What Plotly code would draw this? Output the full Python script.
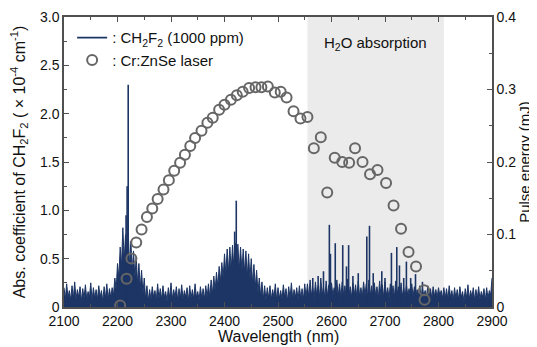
import plotly.graph_objects as go

# ---------------- data ----------------
# CH2F2 absorption trace (x1e-4 cm^-1), read every 2.5 nm from 2100 to 2900 nm
wl_start, wl_step = 2100.0, 2.5
abs_base1 = [  # 2100 - 2190
    0.20, 0.08, 0.24, 0.10, 0.17, 0.07, 0.22, 0.09, 0.26, 0.08,
    0.18, 0.10, 0.21, 0.06, 0.19, 0.09, 0.23, 0.08, 0.16, 0.10,
    0.25, 0.07, 0.20, 0.09, 0.18, 0.08, 0.22, 0.10, 0.17, 0.06,
    0.21, 0.09, 0.24, 0.08, 0.19, 0.10, 0.20]
abs_band1 = [  # 2192.5 - 2260
    0.12, 0.30, 0.18, 0.45, 0.30, 0.62, 0.42, 0.82, 0.48, 0.75,
    0.52, 0.80, 0.42, 0.68, 0.38, 0.58, 0.30, 0.52, 0.24, 0.45,
    0.20, 0.38, 0.14, 0.30, 0.08, 0.22, 0.06, 0.18]
abs_base2 = [  # 2262.5 - 2365
    0.08, 0.21, 0.10, 0.17, 0.07, 0.24, 0.09, 0.19, 0.08, 0.22,
    0.10, 0.16, 0.06, 0.20, 0.09, 0.25, 0.08, 0.18, 0.10, 0.21,
    0.07, 0.19, 0.09, 0.23, 0.08, 0.17, 0.10, 0.20, 0.06, 0.22,
    0.09, 0.18, 0.08, 0.24, 0.10, 0.16, 0.07, 0.21, 0.09, 0.19,
    0.08, 0.22]
abs_band2 = [  # 2367.5 - 2480
    0.10, 0.24, 0.10, 0.28, 0.13, 0.32, 0.17, 0.36, 0.21, 0.42,
    0.26, 0.46, 0.30, 0.55, 0.34, 0.60, 0.36, 0.62, 0.38, 0.64,
    0.40, 0.66, 0.42, 0.65, 0.38, 0.62, 0.37, 0.60, 0.35, 0.58,
    0.31, 0.55, 0.29, 0.50, 0.24, 0.44, 0.20, 0.38, 0.15, 0.30,
    0.11, 0.26, 0.08, 0.22, 0.07, 0.20]
abs_base3 = [  # 2482.5 - 2552.5
    0.09, 0.22, 0.08, 0.18, 0.10, 0.24, 0.07, 0.20, 0.09, 0.17,
    0.08, 0.23, 0.10, 0.19, 0.06, 0.21, 0.09, 0.25, 0.08, 0.18,
    0.10, 0.20, 0.07, 0.22, 0.09, 0.19, 0.08, 0.24, 0.10]
abs_water = [  # 2555 - 2810
    0.24, 0.10, 0.28, 0.12, 0.20, 0.09, 0.26, 0.11, 0.22, 0.10,
    0.30, 0.12, 0.21, 0.09, 0.27, 0.11, 0.23, 0.10, 0.25, 0.12,
    0.20, 0.09, 0.28, 0.11, 0.24, 0.10, 0.26, 0.12, 0.22, 0.09,
    0.29, 0.11, 0.21, 0.10, 0.25, 0.12, 0.23, 0.09, 0.27, 0.11,
    0.20, 0.10, 0.26, 0.12, 0.24, 0.09, 0.28, 0.11, 0.22, 0.10,
    0.25, 0.12, 0.21, 0.09, 0.27, 0.11, 0.23, 0.10, 0.26, 0.12,
    0.20, 0.09, 0.24, 0.11, 0.22, 0.10, 0.27, 0.12, 0.21, 0.09,
    0.25, 0.11, 0.20, 0.10, 0.23, 0.12, 0.19, 0.09, 0.24, 0.11,
    0.21, 0.10, 0.18, 0.12, 0.22, 0.09, 0.20, 0.11, 0.17, 0.10,
    0.22, 0.12, 0.19, 0.09, 0.21, 0.11, 0.18, 0.10, 0.20, 0.12,
    0.17, 0.09, 0.20]
abs_base4 = [  # 2812.5 - 2900
    0.09, 0.19, 0.08, 0.22, 0.10, 0.17, 0.07, 0.20, 0.09, 0.18,
    0.08, 0.21, 0.10, 0.16, 0.06, 0.19, 0.09, 0.23, 0.08, 0.17,
    0.10, 0.20, 0.07, 0.18, 0.09, 0.21, 0.08, 0.16, 0.10, 0.19,
    0.07, 0.20, 0.09, 0.17, 0.12, 0.30]

# sharp absorption lines: position (nm) and peak height (x1e-4 cm^-1)
line_pos = [2216, 2218, 2220, 2419, 2422,
            2565, 2575, 2585, 2596, 2598, 2607, 2621, 2628, 2632, 2640, 2650,
            2666, 2671, 2678, 2694, 2700, 2712, 2722, 2727, 2735, 2740, 2748,
            2757, 2770]
line_hgt = [0.95, 1.25, 2.30, 0.78, 1.10,
            0.30, 0.32, 0.37, 0.85, 0.55, 0.66, 0.64, 0.42, 0.64, 0.32, 0.35,
            0.73, 0.84, 0.35, 0.37, 0.30, 0.56, 0.62, 0.43, 0.30, 0.47, 0.30,
            0.34, 0.26]

# Cr:ZnSe laser pulse energy (mJ)
laser_wl = [2205, 2217, 2226, 2235, 2245, 2255, 2265, 2275, 2286, 2296,
            2306, 2317, 2326, 2336, 2345, 2357, 2368, 2378, 2390, 2400,
            2412, 2423, 2434, 2446, 2458, 2469, 2481, 2494, 2505, 2516,
            2529, 2542, 2555, 2567, 2580, 2592, 2606, 2620, 2633, 2644,
            2658, 2672, 2686, 2702, 2716, 2730, 2744, 2758, 2773, 2774]
laser_mj = [0.002, 0.039, 0.067, 0.089, 0.107, 0.124, 0.136, 0.149, 0.162, 0.175,
            0.188, 0.199, 0.210, 0.222, 0.233, 0.243, 0.254, 0.261, 0.272, 0.279,
            0.286, 0.292, 0.297, 0.302, 0.303, 0.303, 0.304, 0.296, 0.297, 0.289,
            0.270, 0.260, 0.262, 0.219, 0.234, 0.158, 0.206, 0.200, 0.199, 0.219,
            0.200, 0.183, 0.189, 0.171, 0.140, 0.108, 0.076, 0.056, 0.023, 0.010]

h2o_band = [2555, 2810]

left_ticks = [0, 0.5, 1.0, 1.5, 2.0, 2.5, 3.0]
left_labels = ["0", "0.5", "1.0", "1.5", "2.0", "2.5", "3.0"]
right_ticks = [0, 0.1, 0.2, 0.3, 0.4]
right_labels = ["0", "0.1", "0.2", "0.3", "0.4"]
x_ticks = [2100, 2200, 2300, 2400, 2500, 2600, 2700, 2800, 2900]

# ---------------- figure ----------------
navy = "#1d3565"
gray = "#666666"
axis_col = "#505050"
font = "Liberation Sans, Arial, sans-serif"

abs_trace = abs_base1 + abs_band1 + abs_base2 + abs_band2 + abs_base3 + abs_water + abs_base4
trace_wl = [wl_start + i * wl_step for i in range(len(abs_trace))]

lx, ly = [], []
for p, h in zip(line_pos, line_hgt):
    lx += [p, p, None]
    ly += [0, h, None]

fig = go.Figure()
fig.add_trace(go.Scatter(x=trace_wl, y=abs_trace, mode="lines", fill="tozeroy",
                         fillcolor=navy, line=dict(color=navy, width=1),
                         showlegend=False, hoverinfo="skip"))
fig.add_trace(go.Scatter(x=lx, y=ly, mode="lines",
                         line=dict(color=navy, width=1.6),
                         name=": CH<sub>2</sub>F<sub>2</sub> (1000 ppm)"))
fig.add_trace(go.Scatter(x=laser_wl, y=laser_mj, mode="markers", yaxis="y2",
                         marker=dict(symbol="circle-open", size=10, color=gray,
                                     line=dict(width=2, color=gray)),
                         name=": Cr:ZnSe laser"))

fig.add_shape(type="rect", xref="x", yref="paper", x0=h2o_band[0], x1=h2o_band[1],
              y0=0, y1=1, fillcolor="#ebebeb", line_width=0, layer="below")
fig.add_annotation(x=(h2o_band[0] + h2o_band[1]) / 2, y=2.73, xref="x", yref="y",
                   text="H<sub>2</sub>O absorption", showarrow=False,
                   font=dict(size=15, color="#111111", family=font))
# x-axis title (placed tight under the tick labels, as in the reference)
fig.add_annotation(x=0.5, y=0, xref="paper", yref="paper", yanchor="middle",
                   yshift=-29, text="Wavelength (nm)", showarrow=False,
                   font=dict(size=16, color="#111111", family=font))

fig.update_layout(
    width=529, height=339,
    margin=dict(l=56, r=45, t=9, b=40, autoexpand=False),
    paper_bgcolor="white", plot_bgcolor="white",
    font=dict(family=font, size=14, color="#111111"),
    legend=dict(x=0.019, y=0.985, xanchor="left", yanchor="top",
                bgcolor="rgba(0,0,0,0)", font=dict(size=15),
                tracegroupgap=0, itemwidth=30),
    xaxis=dict(range=[2100, 2900], tickvals=x_ticks, ticks="inside", ticklen=5,
               tickcolor=axis_col, showline=True, linecolor=axis_col, linewidth=1.5,
               mirror="ticks", showgrid=False, zeroline=False, automargin=False,
               minor=dict(dtick=50, ticks="inside", ticklen=3, tickcolor=axis_col)),
    yaxis=dict(range=[0, 3.0], tickvals=left_ticks, ticktext=left_labels,
               ticks="inside", ticklen=5, tickcolor=axis_col, showline=True,
               linecolor=axis_col, linewidth=1.5, showgrid=False, zeroline=False,
               automargin=False,
               minor=dict(tickvals=[0.25, 0.75, 1.25, 1.75, 2.25, 2.75],
                          ticks="inside", ticklen=3, tickcolor=axis_col),
               title=dict(text="Abs. coefficient of CH<sub>2</sub>F<sub>2</sub> ( × 10<sup>-4</sup> cm<sup>-1</sup>)",
                          standoff=17, font=dict(size=16))),
    yaxis2=dict(range=[0, 0.4], overlaying="y", side="right", tickvals=right_ticks,
                ticktext=right_labels, ticks="inside", ticklen=5, tickcolor=axis_col,
                showline=True, linecolor=axis_col, linewidth=1.5, showgrid=False,
                zeroline=False, automargin=False,
                minor=dict(tickvals=[0.05, 0.15, 0.25, 0.35], ticks="inside",
                           ticklen=3, tickcolor=axis_col),
                title=dict(text="Pulse energy (mJ)", standoff=3, font=dict(size=15))),
)

fig.write_html("out.html")
